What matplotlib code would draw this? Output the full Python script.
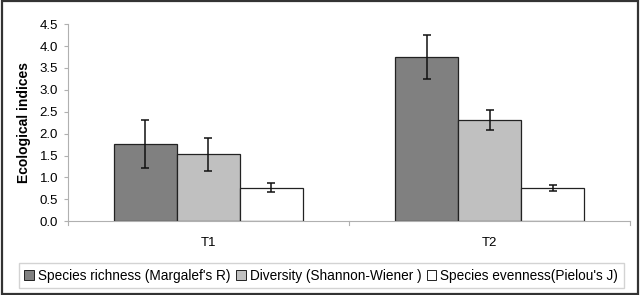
import numpy as np
import matplotlib
matplotlib.use("Agg")
import matplotlib.pyplot as plt
import matplotlib.patches as mpatches

plt.rcParams['font.family'] = ['Liberation Sans', 'DejaVu Sans']

treatments = ['T1', 'T2']
series = ["Species richness (Margalef's R)", "Diversity (Shannon-Wiener )", "Species evenness(Pielou's J)"]
richness = [1.77, 3.75]
richness_err = [0.55, 0.51]
diversity = [1.53, 2.31]
diversity_err = [0.38, 0.23]
evenness = [0.77, 0.76]
evenness_err = [0.10, 0.06]
colors = ['#808080', '#c0c0c0', '#ffffff']

fig = plt.figure(figsize=(6.4, 2.95), dpi=100)
ax = fig.add_axes([0.106, 0.25, 0.879, 0.668])

x = np.arange(len(treatments))
w = 0.224
allvals = [(richness, richness_err), (diversity, diversity_err), (evenness, evenness_err)]
for i, ((vals, errs), lab) in enumerate(zip(allvals, series)):
	ax.bar(x + (i - 1) * w, vals, w, color=colors[i], edgecolor='#222222', linewidth=0.9,
		yerr=errs, capsize=3, error_kw=dict(ecolor='#111111', elinewidth=1.1, capthick=1.1), label=lab)

ax.set_xlim(-0.5, 1.5)
ax.set_ylim(0, 4.5)
ax.set_yticks(np.arange(0, 4.51, 0.5))
ax.set_yticklabels(['%.1f' % v for v in np.arange(0, 4.51, 0.5)], fontsize=9.5)
ax.set_xticks(x)
ax.set_xticklabels(treatments, fontsize=9.5)
ax.tick_params(axis='x', length=0, pad=11)
ax.tick_params(axis='y', length=3, color='#b0b0b0', pad=4)
for v in [-0.5, 0.5, 1.5]:
	ax.plot([v, v], [0, -0.08], color='#b0b0b0', lw=0.8, clip_on=False)
for s in ['top', 'right']:
	ax.spines[s].set_visible(False)
for s in ['left', 'bottom']:
	ax.spines[s].set_color('#b0b0b0')
ax.set_ylabel('Ecological indices', fontsize=10, fontweight='bold', labelpad=6)

leg = fig.legend(loc='lower center', bbox_to_anchor=(0.502, 0.0), ncol=3, fontsize=9.8,
	frameon=True, fancybox=False, edgecolor='#c8c8c8', handlelength=0.7, handleheight=0.7,
	handletextpad=0.3, columnspacing=0.4, borderpad=0.4)
for p in leg.get_patches():
	p.set_linewidth(0.7)

fig.patches.append(mpatches.Rectangle((0.003, 0.005), 0.994, 0.99, transform=fig.transFigure,
	fill=False, edgecolor='#333333', linewidth=1.6))

fig.savefig('out.png', dpi=100)
